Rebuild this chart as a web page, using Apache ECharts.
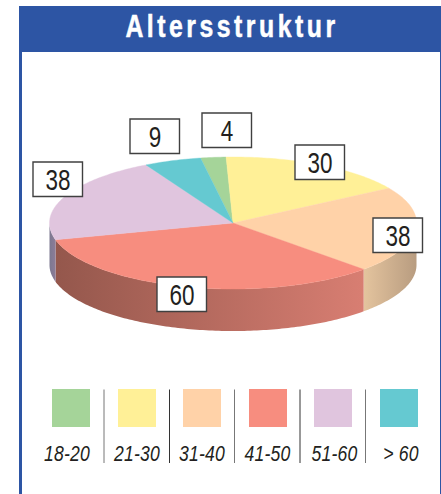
<!DOCTYPE html>
<html><head><meta charset="utf-8">
<style>
html,body{margin:0;padding:0;background:#fff}
#chart{width:441px;height:494px}
#chart text[style*="31px"]{letter-spacing:4.4px}
#chart text[style*="italic"]{letter-spacing:.3px}
</style>
<script src="https://cdn.jsdelivr.net/npm/echarts@6/dist/echarts.min.js"></script>
</head><body><div id="chart"></div>
<script>
const titleText = 'Altersstruktur';
const categories = ['18-20','21-30','31-40','41-50','51-60','> 60'];
const values = [4,30,38,60,38,9];
const colors = ['#A5D499','#FFF097','#FFD2A8','#F78D7F','#E0C5DE','#65C9D1'];
const wallLeft = ['#888','#888','#E4C49E','#94574C','#7C7890','#888'];
const wallRight = ['#888','#888','#B89C80','#D87E72','#8C7C98','#888'];
const labelBoxes = [[202,113],[295,145],[373,218],[157,277],[33,162],[130,119]];
const swatchX = [52,118,183,249,314,380];
const labelX = [67,137,202,267.5,334.5,401];
const separatorX = [104,169.5,234.5,300,365.5];

const FONT = '"Liberation Sans",Arial,sans-serif';
const CX = 233, CY = 223, RX = 183.5, RY = 66, DEPTH = 42, START = -10.2;
const total = values.reduce((a,b)=>a+b,0);
const BLUE = '#2D55A4';
const pt = (deg, dy=0) => { const r = deg*Math.PI/180; return [CX+RX*Math.sin(r), CY-RY*Math.cos(r)+dy]; };
function arc(a, b, dy=0){ const out=[]; const n=Math.max(2,Math.ceil(Math.abs(b-a)));
  for(let i=0;i<=n;i++) out.push(pt(a+(b-a)*i/n,dy)); return out; }

function renderSlice(params, api){
  const i = params.dataIndex, v = api.value(0);
  let before = 0; for(let k=0;k<i;k++) before += values[k];
  const a0 = START + before/total*360, a1 = a0 + v/total*360;
  const children = [];
  const w0 = Math.max(a0,90), w1 = Math.min(a1,270);
  if (w1 > w0){
    const top = arc(w0,w1), bot = arc(w1,w0,DEPTH);
    const xs = top.map(p=>p[0]);
    children.push({type:'polygon', z2:1, shape:{points:top.concat(bot)}, style:{
      fill:new echarts.graphic.LinearGradient(Math.min(...xs),0,Math.max(...xs),0,
        [{offset:0,color:wallLeft[i]},{offset:1,color:wallRight[i]}],true)}});
  }
  children.push({type:'polygon', z2:2, shape:{points:[[CX,CY]].concat(arc(a0,a1))},
    style:{fill:colors[i], stroke:colors[i], lineWidth:0.4}});
  const [bx,by] = labelBoxes[i];
  children.push({type:'rect', z2:10, shape:{x:bx,y:by,width:49.5,height:34.5},
    style:{fill:'#fff',stroke:'#404040',lineWidth:1.4}});
  children.push({type:'text', z2:11, x:bx+25, y:by+18, scaleX:0.75,
    style:{x:0,y:0,text:String(v),align:'center',verticalAlign:'middle',
    fontFamily:FONT,fontSize:30,fill:'#231F20'}});
  return {type:'group',children};
}

const legend = [];
categories.forEach((c,i)=>{
  legend.push({type:'rect',shape:{x:swatchX[i],y:389,width:38,height:38},style:{fill:colors[i]}});
  legend.push({type:'text',x:labelX[i],y:453,scaleX:0.8,style:{x:0,y:0,text:c,align:'center',verticalAlign:'middle',
    font:'italic 22px '+FONT,fill:'#231F20'}});
});
separatorX.forEach((x,i)=>legend.push({type:'line',shape:{x1:x,y1:389.5,x2:x,y2:463},
  style:{stroke:i%2?'#333':'#777',lineWidth:1}}));

const chart = echarts.init(document.getElementById('chart'),null,{renderer:'svg',width:441,height:494});
chart.setOption({
  animation:false,
  backgroundColor:'#fff',
  graphic:[
    {type:'rect',z:1,shape:{x:19,y:6,width:422,height:46},style:{fill:BLUE}},
    {type:'rect',z:1,shape:{x:19,y:6,width:3,height:488},style:{fill:BLUE}},
    {type:'rect',z:1,shape:{x:440,y:6,width:1,height:488},style:{fill:BLUE}},
    {type:'text',z:5,x:232,y:26.5,scaleX:0.8,style:{x:0,y:0,text:titleText,align:'center',verticalAlign:'middle',
      font:'bold 31px '+FONT,fill:'#fff',stroke:'#fff',lineWidth:0.5}},
    ...legend
  ],
  series:[{type:'custom',coordinateSystem:'none',silent:true,z:3,
    data:values.map((v,i)=>({name:categories[i],value:[v]})),
    renderItem:renderSlice}]
});
</script></body></html>
